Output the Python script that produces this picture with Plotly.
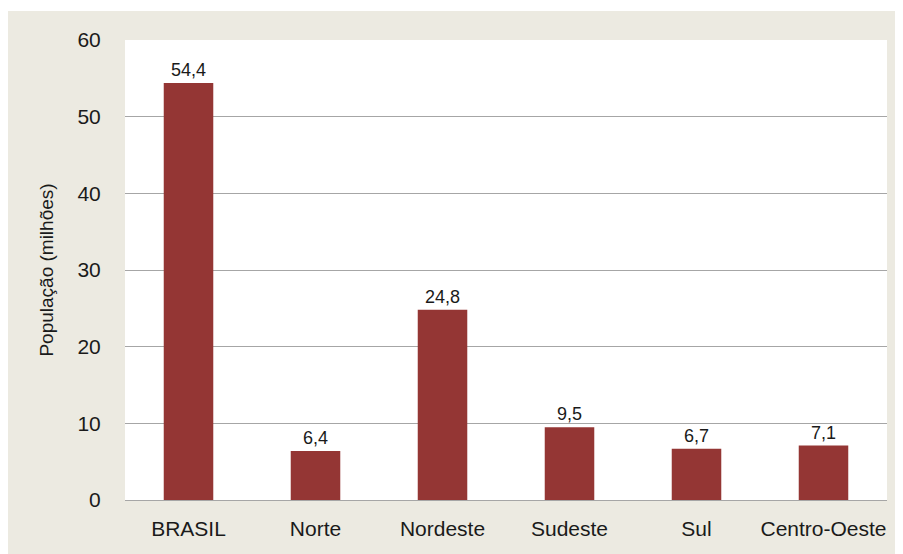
import plotly.graph_objects as go

categories = ["BRASIL", "Norte", "Nordeste", "Sudeste", "Sul", "Centro-Oeste"]
values = [54.4, 6.4, 24.8, 9.5, 6.7, 7.1]
labels = ["54,4", "6,4", "24,8", "9,5", "6,7", "7,1"]
y_ticks = [0, 10, 20, 30, 40, 50, 60]

# page body has an 8px margin; figure fills the rest
W, H = 895, 546
L, R, T, B = 117, 16, 32, 54
pw, ph = W - L - R, H - T - B

FONT = "Liberation Sans, Arial, sans-serif"
TXT = "#1a1a1a"

fig = go.Figure(go.Bar(
    x=categories, y=values, text=labels,
    textposition="outside", cliponaxis=False,
    textfont=dict(size=18, color=TXT, family=FONT),
    marker=dict(color="#943634", line=dict(width=0)),
))

fig.update_layout(
    width=W, height=H,
    margin=dict(l=L, r=R, t=T, b=B, pad=0),
    paper_bgcolor="#ECEAE1",
    plot_bgcolor="white",
    bargap=0.61,
    showlegend=False,
    font=dict(family=FONT, color=TXT),
)
# thin white strip at the very top of the figure
fig.add_shape(type="rect", xref="paper", yref="paper", layer="below",
              x0=-L / pw - 0.01, x1=(W - L) / pw + 0.01,
              y0=1 + (T - 3) / ph, y1=1 + T / ph + 0.01,
              fillcolor="white", line=dict(width=0))

fig.update_yaxes(
    range=[0, 60], tickvals=y_ticks, ticktext=[str(v) for v in y_ticks],
    showgrid=True, gridcolor="#A6A6A6", gridwidth=1.2,
    zeroline=False, showline=False,
    ticks="outside", ticklen=19, tickcolor="rgba(0,0,0,0)",
    tickfont=dict(size=21, family=FONT, color=TXT),
    title=dict(text="População (milhões)", standoff=18,
               font=dict(size=19, family=FONT, color=TXT)),
)
fig.update_xaxes(
    showline=True, linecolor="#A6A6A6", linewidth=1.2,
    ticks="outside", ticklen=10, tickcolor="rgba(0,0,0,0)",
    tickfont=dict(size=21, family=FONT, color=TXT),
)

fig.write_html("out.html")
